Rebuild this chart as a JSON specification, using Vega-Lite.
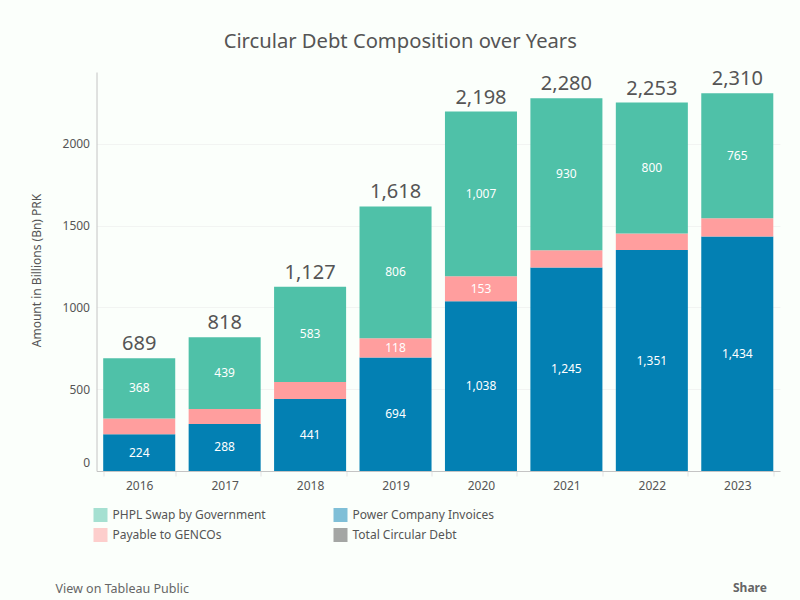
{
"$schema":"https://vega.github.io/schema/vega-lite/v6.json",
"width":683.5,"height":399,
"autosize":{"type":"none"},
"padding":{"left":96.5,"top":72,"right":20,"bottom":129},
"background":"#fbfffb",
"title":{"text":"Circular Debt Composition over Years","anchor":"middle","frame":"group","dx":-38,"offset":17,"font":"Noto Sans","fontSize":20.2,"fontWeight":"normal","color":"#555555"},
"config":{"view":{"stroke":null},"font":"Noto Sans"},
"data":{"values":[
{"year":"2016","series":"Power Company Invoices","rank":1,"value":224},
{"year":"2016","series":"Payable to GENCOs","rank":2,"value":97},
{"year":"2016","series":"PHPL Swap by Government","rank":3,"value":368},
{"year":"2017","series":"Power Company Invoices","rank":1,"value":288},
{"year":"2017","series":"Payable to GENCOs","rank":2,"value":91},
{"year":"2017","series":"PHPL Swap by Government","rank":3,"value":439},
{"year":"2018","series":"Power Company Invoices","rank":1,"value":441},
{"year":"2018","series":"Payable to GENCOs","rank":2,"value":103},
{"year":"2018","series":"PHPL Swap by Government","rank":3,"value":583},
{"year":"2019","series":"Power Company Invoices","rank":1,"value":694},
{"year":"2019","series":"Payable to GENCOs","rank":2,"value":118},
{"year":"2019","series":"PHPL Swap by Government","rank":3,"value":806},
{"year":"2020","series":"Power Company Invoices","rank":1,"value":1038},
{"year":"2020","series":"Payable to GENCOs","rank":2,"value":153},
{"year":"2020","series":"PHPL Swap by Government","rank":3,"value":1007},
{"year":"2021","series":"Power Company Invoices","rank":1,"value":1245},
{"year":"2021","series":"Payable to GENCOs","rank":2,"value":105},
{"year":"2021","series":"PHPL Swap by Government","rank":3,"value":930},
{"year":"2022","series":"Power Company Invoices","rank":1,"value":1351},
{"year":"2022","series":"Payable to GENCOs","rank":2,"value":102},
{"year":"2022","series":"PHPL Swap by Government","rank":3,"value":800},
{"year":"2023","series":"Power Company Invoices","rank":1,"value":1434},
{"year":"2023","series":"Payable to GENCOs","rank":2,"value":111},
{"year":"2023","series":"PHPL Swap by Government","rank":3,"value":765},
{"year":"2016","series":"Total Circular Debt","rank":4,"value":689},
{"year":"2017","series":"Total Circular Debt","rank":4,"value":818},
{"year":"2018","series":"Total Circular Debt","rank":4,"value":1127},
{"year":"2019","series":"Total Circular Debt","rank":4,"value":1618},
{"year":"2020","series":"Total Circular Debt","rank":4,"value":2198},
{"year":"2021","series":"Total Circular Debt","rank":4,"value":2280},
{"year":"2022","series":"Total Circular Debt","rank":4,"value":2253},
{"year":"2023","series":"Total Circular Debt","rank":4,"value":2310}
]},
"layer":[
{"transform":[{"filter":"datum.rank < 4"},
{"stack":"value","groupby":["year"],"sort":[{"field":"rank","order":"ascending"}],"as":["y0","y1"]}],
"mark":{"type":"bar"},
"encoding":{
"x":{"field":"year","type":"ordinal","title":"View on Tableau Public","scale":{"paddingInner":0.157,"paddingOuter":0.0785},
"axis":{"labelAngle":0,"labelFontSize":12,"labelColor":"#555555","labelPadding":4,"tickBand":"extent","tickColor":"#e3e3e3","tickSize":5,"domainColor":"#c4c4c4","titleFontSize":12.5,"titleFontWeight":"normal","titleColor":"#666666","titleAnchor":"start","titleAlign":"left","titleX":-41.5,"titleY":111}},
"y":{"field":"y0","type":"quantitative","title":"Amount in Billions (Bn) PRK","scale":{"domain":[0,2440],"nice":false},
"axis":{"values":[0,500,1000,1500,2000],"format":"d","labelFontSize":12,"labelColor":"#555555","labelPadding":7,"labelFlush":true,"labelFlushOffset":-2,"ticks":false,"domainColor":"#c4c4c4","gridColor":"#f2f4f2","titleFontSize":12,"titleFontWeight":"normal","titleColor":"#555555","titleX":-53,"titleY":198}},
"y2":{"field":"y1"},
"color":{"field":"series","type":"nominal",
"scale":{"domain":["PHPL Swap by Government","Power Company Invoices","Payable to GENCOs","Total Circular Debt"],"range":["#4fc1a8","#0380b3","#ff9e9e","#4d4d4d"]},
"legend":{"title":null,"orient":"none","legendX":-3,"legendY":436,"columns":2,"direction":"horizontal","symbolType":"square","symbolSize":196,"symbolOpacity":0.5,"symbolStrokeWidth":0,"labelFontSize":12,"labelColor":"#555555","labelOffset":5,"rowPadding":6,"columnPadding":67,"gridAlign":"all","labelLimit":220}},
"order":{"field":"rank"}}},
{"transform":[{"filter":"datum.rank < 4"},
{"stack":"value","groupby":["year"],"sort":[{"field":"rank","order":"ascending"}],"as":["y0","y1"]},
{"calculate":"(datum.y0+datum.y1)/2","as":"mid"},
{"filter":"datum.value >= 118"}],
"mark":{"type":"text","color":"#ffffff","fontSize":12},
"encoding":{
"x":{"field":"year","type":"ordinal","axis":null,"scale":{"paddingInner":0.157,"paddingOuter":0.0785}},
"y":{"field":"mid","type":"quantitative"},
"text":{"field":"value","type":"quantitative","format":","}}},
{"transform":[{"filter":"datum.rank == 4"}],
"mark":{"type":"text","color":"#555555","fontSize":20,"baseline":"bottom","dy":-4},
"encoding":{
"x":{"field":"year","type":"ordinal","scale":{"paddingInner":0.157,"paddingOuter":0.0785},
"axis":{"orient":"top","labels":false,"ticks":false,"domain":false,"title":"Share","titleFontSize":12,"titleFontWeight":"bold","titleColor":"#666666","titleAnchor":"start","titleAlign":"left","titleX":636,"titleY":522}},
"y":{"field":"value","type":"quantitative"},
"text":{"field":"value","type":"quantitative","format":","}}}
],
"resolve":{"axis":{"x":"independent"}}
}
